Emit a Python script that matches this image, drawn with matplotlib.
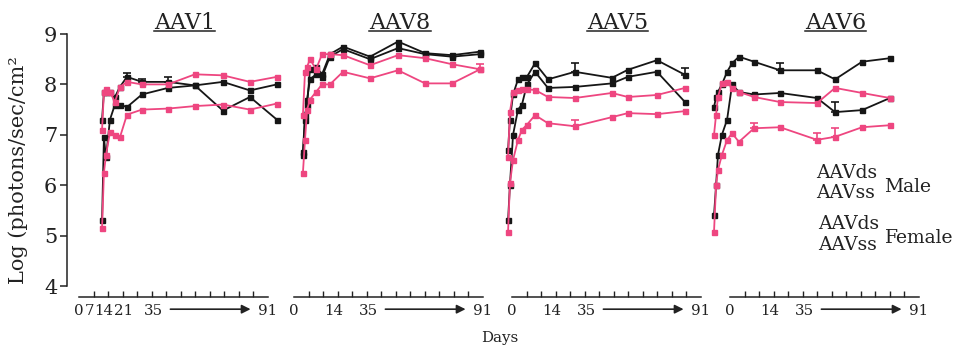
import matplotlib
matplotlib.use("Agg")
import matplotlib.pyplot as plt
from matplotlib.lines import Line2D
from matplotlib.transforms import IdentityTransform
import numpy as np

plt.rcParams['font.family'] = ['DejaVu Serif']

# ---------------- data (days on each panel's own axis, log photons/sec/cm2) -------------
titles = ["AAV1", "AAV8", "AAV5", "AAV6"]

days_aav1 = [11.1, 12.0, 13.0, 14.9, 17.3, 19.7, 23.1, 30.3, 42.8, 55.8, 69.3, 82.3, 95.3]
aav1_male_ds = [5.3, 6.95, 6.55, 7.3, 7.6, 7.6, 7.55, 7.8, 7.93, 7.98, 8.05, 7.88, 8.0]
aav1_male_ss = [7.3, 7.85, 7.85, 7.85, 7.75, 7.95, 8.15, 8.05, 8.05, 7.98, 7.48, 7.75, 7.3]
aav1_female_ds = [7.1, 7.85, 7.9, 7.85, 7.65, 7.95, 8.05, 8.0, 8.0, 8.2, 8.18, 8.05, 8.15]
aav1_female_ss = [5.15, 6.25, 6.6, 7.05, 7.0, 6.95, 7.4, 7.5, 7.52, 7.57, 7.6, 7.5, 7.62]

days_aav8 = [4.3, 5.3, 6.3, 7.7, 10.6, 13.5, 17.3, 23.6, 36.6, 50.1, 63.1, 76.1, 89.6]
aav8_male_ds = [6.65, 7.4, 7.6, 8.3, 8.35, 8.2, 8.6, 8.75, 8.55, 8.85, 8.62, 8.58, 8.65]
aav8_male_ss = [6.6, 7.3, 7.7, 8.1, 8.2, 8.15, 8.55, 8.7, 8.5, 8.72, 8.6, 8.55, 8.6]
aav8_female_ds = [7.4, 8.25, 8.35, 8.5, 8.3, 8.6, 8.6, 8.58, 8.38, 8.58, 8.52, 8.4, 8.3]
aav8_female_ss = [6.25, 6.9, 7.5, 7.7, 7.85, 8.0, 8.0, 8.25, 8.12, 8.28, 8.02, 8.02, 8.3]

days_aav5 = [-1.9, -1.0, 0.5, 2.9, 4.8, 7.2, 11.1, 17.3, 30.3, 48.1, 55.8, 69.8, 83.3]
aav5_male_ds = [6.7, 7.3, 7.8, 8.1, 8.15, 8.15, 8.42, 8.1, 8.25, 8.13, 8.29, 8.48, 8.19]
aav5_male_ss = [5.3, 6.0, 7.0, 7.5, 7.6, 8.0, 8.25, 7.93, 7.95, 8.02, 8.15, 8.25, 7.65]
aav5_female_ds = [6.55, 7.45, 7.85, 7.88, 7.9, 7.9, 7.89, 7.75, 7.73, 7.83, 7.75, 7.79, 7.93]
aav5_female_ss = [5.07, 6.04, 6.5, 6.9, 7.1, 7.2, 7.39, 7.23, 7.17, 7.35, 7.43, 7.41, 7.47]

days_aav6 = [-7.7, -6.7, -5.8, -3.9, -1.4, 1.0, 4.3, 11.6, 24.1, 41.9, 50.6, 63.6, 77.0]
aav6_male_ds = [7.55, 7.75, 7.85, 8.0, 8.25, 8.42, 8.55, 8.45, 8.28, 8.28, 8.1, 8.45, 8.52]
aav6_male_ss = [5.4, 6.0, 6.6, 7.0, 7.3, 8.0, 7.85, 7.8, 7.83, 7.73, 7.45, 7.49, 7.73]
aav6_female_ds = [7.0, 7.4, 7.75, 8.02, 8.05, 7.93, 7.85, 7.75, 7.65, 7.63, 7.93, 7.83, 7.73]
aav6_female_ss = [5.07, 6.0, 6.3, 6.6, 6.9, 7.03, 6.86, 7.13, 7.15, 6.9, 6.96, 7.15, 7.19]

# upper error bars (SEM) where visible
err_aav1_male_ss = [0, 0, 0, 0, 0, 0, 0.07, 0.06, 0.1, 0, 0, 0, 0]
err_aav8_female_ds = [0, 0, 0, 0, 0, 0, 0, 0, 0, 0, 0, 0, 0.1]
err_aav5_male_ds = [0, 0, 0, 0, 0, 0, 0, 0, 0.17, 0, 0, 0, 0.13]
err_aav5_female_ss = [0, 0, 0, 0, 0, 0, 0, 0, 0.12, 0, 0, 0, 0]
err_aav6_male_ds = [0, 0, 0, 0, 0, 0, 0, 0, 0.14, 0, 0, 0, 0]
err_aav6_male_ss = [0, 0, 0, 0, 0, 0, 0, 0, 0, 0, 0.2, 0, 0]
err_aav6_female_ss = [0, 0, 0, 0, 0, 0, 0, 0.1, 0, 0.13, 0.17, 0, 0]

panels = [
    (days_aav1, [aav1_male_ds, aav1_male_ss, aav1_female_ds, aav1_female_ss],
     [None, err_aav1_male_ss, None, None]),
    (days_aav8, [aav8_male_ds, aav8_male_ss, aav8_female_ds, aav8_female_ss],
     [None, None, err_aav8_female_ds, None]),
    (days_aav5, [aav5_male_ds, aav5_male_ss, aav5_female_ds, aav5_female_ss],
     [err_aav5_male_ds, None, None, err_aav5_female_ss]),
    (days_aav6, [aav6_male_ds, aav6_male_ss, aav6_female_ds, aav6_female_ss],
     [err_aav6_male_ds, err_aav6_male_ss, None, err_aav6_female_ss]),
]

y_ticks = [4, 5, 6, 7, 8, 9]
tick_pos_first = [0, 5.2, 12.1, 21.4, 36, 91]
tick_lab_first = ["0", "7", "14", "21", "35", "91"]
tick_pos_other = [0, 19.3, 36, 91]
tick_lab_other = ["0", "14", "35", "91"]
week_ticks = np.arange(0, 92, 7)

BLACK = "#161616"
PINK = "#EE4680"
series_colors = [BLACK, BLACK, PINK, PINK]

# ---------------- layout ----------------
W, H = 962, 348
fig = plt.figure(figsize=(W / 100, H / 100), dpi=100)

PXD = 2.077      # px per day
PXV = 50.4       # px per log unit
axis_x0 = [79, 294, 512, 730]   # px of day 0 for each panel
Y9_PX = 34
X_LO, X_HI = -12, 103
Y_LO, Y_HI = 3.4, 9.4
AXIS_Y = 3.78

axes = []
for i, (days, series, errs) in enumerate(panels):
    left_px = axis_x0[i] + X_LO * PXD
    width_px = (X_HI - X_LO) * PXD
    top_px = Y9_PX - (Y_HI - 9) * PXV
    height_px = (Y_HI - Y_LO) * PXV
    ax = fig.add_axes([left_px / W, 1 - (top_px + height_px) / H, width_px / W, height_px / H])
    ax.set_facecolor("none")
    ax.set_xlim(X_LO, X_HI)
    ax.set_ylim(Y_LO, Y_HI)

    for vals, col, err in zip(series, series_colors, errs):
        ax.plot(days, vals, color=col, lw=1.3, marker="s", ms=3.6, mec=col, mfc=col,
                clip_on=False, zorder=3)
        if err is not None:
            e = np.array(err)
            m = e > 0
            ax.errorbar(np.array(days)[m], np.array(vals)[m],
                        yerr=[np.zeros(m.sum()), e[m]], fmt="none", ecolor=col,
                        elinewidth=1.2, capsize=3, capthick=1.2, zorder=3)

    for s in ["top", "right"]:
        ax.spines[s].set_visible(False)
    ax.spines["bottom"].set_position(("data", AXIS_Y))
    ax.spines["bottom"].set_bounds(0, 91)
    ax.spines["bottom"].set_linewidth(1.1)
    ax.spines["bottom"].set_color("#222222")

    if i == 0:
        ax.spines["left"].set_position(("data", -5.8))
        ax.spines["left"].set_bounds(4, 9)
        ax.spines["left"].set_linewidth(1.1)
        ax.spines["left"].set_color("#222222")
        ax.set_yticks(y_ticks)
        ax.tick_params(axis="y", direction="out", length=5, width=1.1, pad=2,
                       labelsize=15, colors="#222222")
        pos, lab = tick_pos_first, tick_lab_first
    else:
        ax.spines["left"].set_visible(False)
        ax.set_yticks([])
        pos, lab = tick_pos_other, tick_lab_other

    ax.set_xticks(pos)
    ax.set_xticklabels(lab)
    ax.set_xticks(week_ticks, minor=True)
    ax.tick_params(axis="x", which="major", length=0, pad=5.2, labelsize=10.8,
                   colors="#222222")
    ax.tick_params(axis="x", which="minor", direction="in", length=4, width=1.0,
                   color="#222222")

    ax.annotate("", xy=(82.6, 3.54), xytext=(44, 3.54),
                arrowprops=dict(arrowstyle="-|>", lw=1.2, color="#222222",
                                mutation_scale=13, shrinkA=0, shrinkB=0),
                annotation_clip=False)

    t = ax.text(51, 9.09, titles[i], ha="center", va="baseline", fontsize=16,
                color="#222222")
    axes.append((ax, t))

fig.text(18 / W, 1 - 170 / H, "Log (photons/sec/cm²", rotation=90, ha="center",
         va="center", fontsize=15, color="#222222")
fig.text(500 / W, 1 - 338 / H, "Days", ha="center", va="center", fontsize=10.8,
         color="#222222")

leg_kw = dict(fontsize=13.5, color="#222222", va="center", ha="left")
fig.text(816 / W, 1 - 173 / H, "AAVds", **leg_kw)
fig.text(816 / W, 1 - 193 / H, "AAVss", **leg_kw)
fig.text(884 / W, 1 - 187 / H, "Male", **leg_kw)
fig.text(818 / W, 1 - 224 / H, "AAVds", **leg_kw)
fig.text(818 / W, 1 - 245 / H, "AAVss", **leg_kw)
fig.text(885 / W, 1 - 238 / H, "Female", **leg_kw)

# underline titles
fig.canvas.draw()
renderer = fig.canvas.get_renderer()
for ax, t in axes:
    bb = t.get_window_extent(renderer)
    yb = ax.transData.transform((51, 9.09))[1] - 2
    fig.add_artist(Line2D([bb.x0, bb.x1], [yb, yb], transform=IdentityTransform(),
                          color="#222222", lw=1.1))

fig.savefig("out.png", dpi=100)
